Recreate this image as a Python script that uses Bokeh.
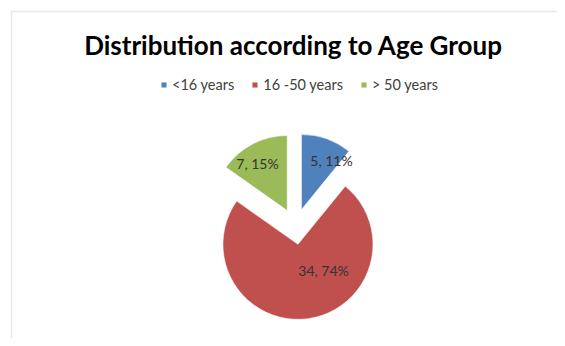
import math
from bokeh.plotting import figure
from bokeh.models import Range1d, Label, Legend, LegendItem, BoxAnnotation, ColumnDataSource
from bokeh.core.properties import value
from bokeh.embed import file_html
from bokeh.resources import INLINE

# ---- data ----
categories = ["<16 years", "16 -50 years", "> 50 years"]
counts = [5, 34, 7]
percents = [11, 74, 15]
colors = ["#4F81BD", "#C0504D", "#9BBB59"]
title_text = "Distribution according to Age Group"

# ---- layout (pixels) ----
W, H = 557, 338
cx, cy = 295, H - 226     # pie centre
radius = 75
explode = 18
# label offsets relative to pie centre (px), per slice
label_dx = [36, 28, -38]
label_dy = [66, -44, 63]

total = sum(counts)
starts, ends, xs, ys, lx, ly, texts = [], [], [], [], [], [], []
cum = 0.0
for i, c in enumerate(counts):
    f0 = cum / total
    f1 = (cum + c) / total
    cum += c
    a0 = math.pi / 2 - f0 * 2 * math.pi
    a1 = math.pi / 2 - f1 * 2 * math.pi
    mid = (a0 + a1) / 2
    starts.append(a0)
    ends.append(a1)
    xs.append(cx + explode * math.cos(mid))
    ys.append(cy + explode * math.sin(mid))
    lx.append(cx + label_dx[i])
    ly.append(cy + label_dy[i])
    texts.append(f"{c}, {percents[i]}%")

src = ColumnDataSource(dict(x=xs, y=ys, start=starts, end=ends, color=colors,
                            lx=lx, ly=ly, text=texts, cat=categories))

p = figure(width=W, height=H, output_backend="svg", toolbar_location=None,
           x_range=Range1d(0, W), y_range=Range1d(0, H),
           x_axis_location=None, y_axis_location=None, min_border=0,
           tools="")
p.grid.visible = False
p.outline_line_color = None
p.background_fill_color = "white"
p.border_fill_color = "white"

# chart frame (only top/left visible)
p.add_layout(BoxAnnotation(left=11, right=W + 50, top=H - 11, bottom=-50,
                           fill_alpha=0, line_color="#b4b4b4", line_width=1.5))

r = p.wedge(x="x", y="y", radius=radius, start_angle="start", end_angle="end",
            direction="clock", fill_color="color", line_color="white",
            line_width=0.5, source=src)

p.text(x="lx", y="ly", text="text", source=src, text_align="center",
       text_baseline="middle", text_font=value("Lato"), text_font_size="14px",
       text_color="#333333")

p.add_layout(Label(x=293, y=H - 44, text=title_text, text_align="center",
                   text_baseline="middle", text_font="Lato", text_font_style="bold",
                   text_font_size="26px", text_color="black"))

legend = Legend(items=[LegendItem(label=categories[i], renderers=[r], index=i)
                       for i in range(len(categories))],
                orientation="horizontal", location=(160, 245),
                glyph_width=7, glyph_height=7, label_standoff=5, spacing=17,
                padding=0, margin=0, border_line_color=None,
                background_fill_alpha=0, label_height=16,
                label_text_font="Lato", label_text_font_size="14.5px",
                label_text_color="#404040")
p.add_layout(legend)

open("out.html", "w").write(file_html(p, INLINE))
